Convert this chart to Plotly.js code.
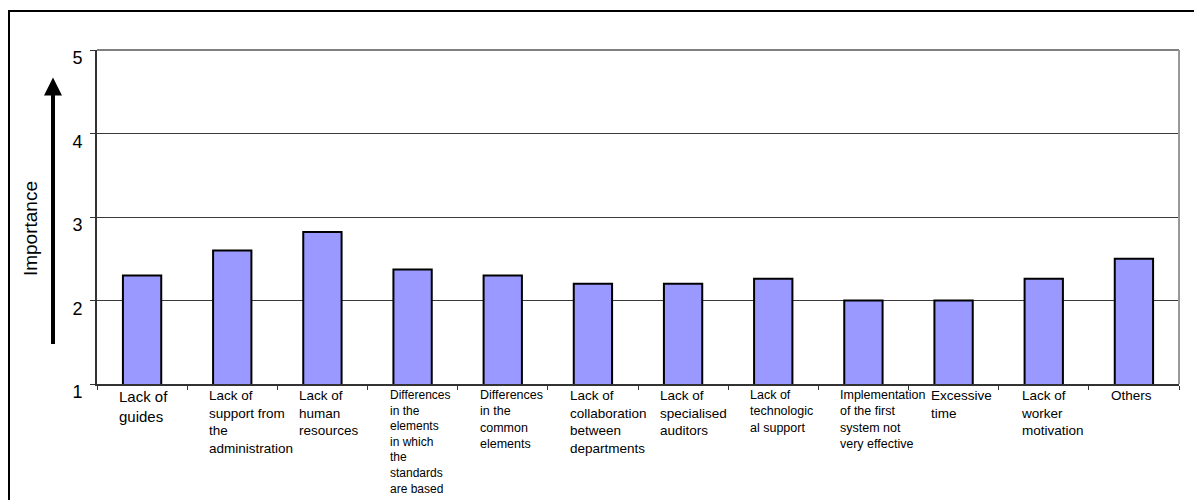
<!DOCTYPE html>
<html>
<head>
<meta charset="utf-8">
<script src="https://cdn.plot.ly/plotly-3.0.1.min.js"></script>
<style>
  html, body { margin: 0; padding: 0; background: #fff; overflow: hidden; }
  #wrap { position: relative; width: 1194px; height: 500px; }
  #frame { position: absolute; left: 8px; top: 10px; width: 1200px; height: 520px;
           border: 2px solid #000; box-sizing: border-box; pointer-events: none; }
  #chart { position: absolute; left: 0; top: 0; width: 1194px; height: 500px; }
</style>
</head>
<body>
<div id="wrap">
  <div id="chart"></div>
  <div id="frame"></div>
</div>
<script>
// ---- data ----
const categories = [
  "Lack of guides",
  "Lack of support from the administration",
  "Lack of human resources",
  "Differences in the elements in which the standards are based",
  "Differences in the common elements",
  "Lack of collaboration between departments",
  "Lack of specialised auditors",
  "Lack of technological support",
  "Implementation of the first system not very effective",
  "Excessive time",
  "Lack of worker motivation",
  "Others"
];
const tickLabels = [
  "Lack of<br>guides",
  "Lack of<br>support from<br>the<br>administration",
  "Lack of<br>human<br>resources",
  "Differences<br>in the<br>elements<br>in which<br>the<br>standards<br>are based",
  "Differences<br>in the<br>common<br>elements",
  "Lack of<br>collaboration<br>between<br>departments",
  "Lack of<br>specialised<br>auditors",
  "Lack of<br>technologic<br>al support",
  "Implementation<br>of the first<br>system not<br>very effective",
  "Excessive<br>time",
  "Lack of<br>worker<br>motivation",
  "Others"
];
const importance = [2.3, 2.6, 2.82, 2.37, 2.3, 2.2, 2.2, 2.26, 2.0, 2.0, 2.26, 2.5];
const yTickValues = [1, 2, 3, 4, 5];
const yTitle = "Importance";

// ---- chart ----
const FONT = "Arial, 'Liberation Sans', sans-serif";

const trace = {
  type: "bar",
  x: categories,
  y: importance,
  marker: { color: "#9999FF", line: { color: "#000000", width: 2 } },
  hoverinfo: "x+y"
};

// label styling (Excel-like: wrapped, left aligned, slightly right of the category start)
function labelSize(i) {
  if (i === 0) return 15;
  if (i === 3) return 12;
  if (i === 4 || i === 7 || i === 8) return 12.5;
  return 13.5;
}
const nCat = categories.length;
const labelAnnotations = categories.map((c, i) => ({
  x: i / nCat, xref: "paper",          // left boundary of each category
  y: 0, yref: "paper",
  yanchor: "top", xanchor: "left", align: "left",
  yshift: -2, xshift: 20,
  showarrow: false,
  text: tickLabels[i],
  font: { family: FONT, size: labelSize(i), color: "#000" }
}));

const layout = {
  width: 1194, height: 500,
  margin: { l: 97, r: 15, t: 50, b: 116, pad: 0 },
  paper_bgcolor: "#ffffff",
  plot_bgcolor: "#ffffff",
  showlegend: false,
  bargap: 0.575,
  font: { family: FONT, color: "#000" },
  xaxis: {
    type: "category",
    showticklabels: false,
    ticks: "outside", tickson: "boundaries", ticklen: 4, tickwidth: 1, tickcolor: "#333",
    showline: true, linecolor: "#333", linewidth: 2,
    showgrid: false, zeroline: false, fixedrange: true
  },
  yaxis: {
    range: [1, 5], tickvals: yTickValues, ticktext: yTickValues.map(String),
    ticks: "outside", ticklen: 5, tickwidth: 1, tickcolor: "#333",
    tickfont: { family: FONT, size: 18, color: "#000" },
    ticklabelshift: 8, ticklabelstandoff: 4,
    showline: true, linecolor: "#333", linewidth: 2,
    showgrid: true, gridcolor: "#3a3a3a", gridwidth: 1,
    zeroline: false, fixedrange: true
  },
  shapes: [
    { type: "line", xref: "paper", yref: "paper", x0: 0, x1: 1, y0: 1, y1: 1,
      line: { color: "#808080", width: 2 } },
    { type: "line", xref: "paper", yref: "paper", x0: 1, x1: 1, y0: 0, y1: 1,
      line: { color: "#999999", width: 2 } }
  ],
  annotations: labelAnnotations.concat([
    { // upward arrow
      xref: "paper", yref: "paper",
      x: (53 - 97) / 1082, y: (384.3 - 77) / 334.8,
      ax: 0, ay: 268, axref: "pixel", ayref: "pixel",
      showarrow: true, arrowhead: 2, arrowsize: 0.9, arrowwidth: 4, arrowcolor: "#000",
      standoff: 0, text: ""
    },
    { // y title
      xref: "paper", yref: "paper",
      x: (30 - 97) / 1082, y: (384.3 - 229) / 334.8,
      xanchor: "center", yanchor: "middle",
      textangle: -90, showarrow: false,
      text: yTitle,
      font: { family: FONT, size: 19, color: "#000" }
    }
  ])
};

Plotly.newPlot("chart", [trace], layout, { displayModeBar: false, staticPlot: true });
</script>
</body>
</html>
